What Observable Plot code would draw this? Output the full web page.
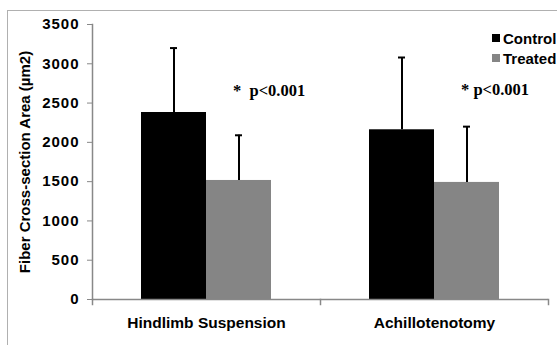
<!DOCTYPE html>
<html><head><meta charset="utf-8">
<script src="https://cdn.jsdelivr.net/npm/d3@7"></script>
<script src="https://cdn.jsdelivr.net/npm/@observablehq/plot@0.6"></script>
<style>
body{margin:0;background:#fff;}
#wrap{position:relative;width:557px;height:345px;overflow:hidden;}
#wrap svg{position:absolute;left:0;top:0;}
#border{position:absolute;left:7px;top:10px;right:-5px;bottom:-5px;border-left:1.5px solid #b0b0b0;border-top:1.5px solid #b0b0b0;}
.leg{position:absolute;left:492px;font:bold 15px "Liberation Sans",Arial,sans-serif;white-space:nowrap;display:flex;align-items:center;height:16px;}
.sw{width:8px;height:8px;margin-right:3px;}
svg [aria-label="y-axis tick label"] text{letter-spacing:1px;}
</style></head><body><div id="wrap"><div id="border"></div></div>
<script>
const categories = ["Hindlimb Suspension", "Achillotenotomy"];
const series = ["Control", "Treated"];
const controlMean = [2380, 2160];
const controlSD = [820, 920];
const treatedMean = [1515, 1490];
const treatedSD = [575, 710];
const yTicks = [0, 500, 1000, 1500, 2000, 2500, 3000, 3500];
const colors = ["#000000", "#858585"];
const annotationText = ["*\u00a0\u00a0p<0.001", "*\u00a0p<0.001"];
const annotationY = [2660, 2670];
const yTitle = "Fiber Cross-section Area (\u00b5m2)";

const data = categories.flatMap((c, i) => [
  {cat: c, s: series[0], mean: controlMean[i], sd: controlSD[i]},
  {cat: c, s: series[1], mean: treatedMean[i], sd: treatedSD[i]}
]);
const ann = categories.map((c, i) => ({cat: c, y: annotationY[i], t: annotationText[i]}));

const plot = Plot.plot({
  width: 557, height: 345,
  marginLeft: 91, marginRight: 9, marginTop: 24, marginBottom: 46,
  style: {background: "transparent", fontFamily: "'Liberation Sans', Arial, sans-serif", fontSize: "15px", fontWeight: "bold", color: "#000", overflow: "visible"},
  fx: {domain: categories, padding: 0, label: null},
  x: {domain: series, paddingInner: 0, paddingOuter: 0.74, axis: null},
  y: {domain: [0, 3500]},
  color: {domain: series, range: colors},
  marks: [
    Plot.barY(data, {fx: "cat", x: "s", y: "mean", fill: "s"}),
    Plot.ruleX(data, {fx: "cat", x: "s", y1: "mean", y2: d => d.mean + d.sd, stroke: "#000", strokeWidth: 2}),
    Plot.tickY(data, {fx: "cat", x: "s", y: d => d.mean + d.sd, stroke: "#000", strokeWidth: 2, insetLeft: 29, insetRight: 29}),
    Plot.ruleY([0], {stroke: "#888", strokeWidth: 1.5}),
    Plot.frame({anchor: "left", facetAnchor: "left", stroke: "#888", strokeWidth: 1.5}),
    Plot.frame({anchor: "left", insetTop: 275, insetBottom: -5, stroke: "#888", strokeWidth: 1.5}),
    Plot.frame({anchor: "right", facetAnchor: "right", insetTop: 275, insetBottom: -5, stroke: "#888", strokeWidth: 1.5}),
    Plot.axisY({ticks: yTicks, tickFormat: d => String(d), tickSize: 5, tickPadding: 8, stroke: "#888", fill: "#000",
      label: yTitle, labelAnchor: "center", labelOffset: 73, labelArrow: "none", fontSize: 15}),
    Plot.axisFx({anchor: "bottom", tickSize: 0, tickPadding: 17, label: null, fill: "#000", fontSize: 15.5}),
    Plot.text(ann, {fx: "cat", x: () => series[1], y: "y", text: "t", textAnchor: "start", dx: -6,
      fontFamily: "'Liberation Serif', 'Times New Roman', serif", fontSize: 16.5, fontWeight: "bold", fill: "#000"})
  ]
});
const wrap = document.getElementById("wrap");
wrap.appendChild(plot);
series.forEach((s, i) => {
  const d = document.createElement("div");
  d.className = "leg";
  d.style.top = (30 + i * 20) + "px";
  d.innerHTML = `<span class="sw" style="background:${colors[i]}"></span>${s}`;
  wrap.appendChild(d);
});
</script></body></html>
